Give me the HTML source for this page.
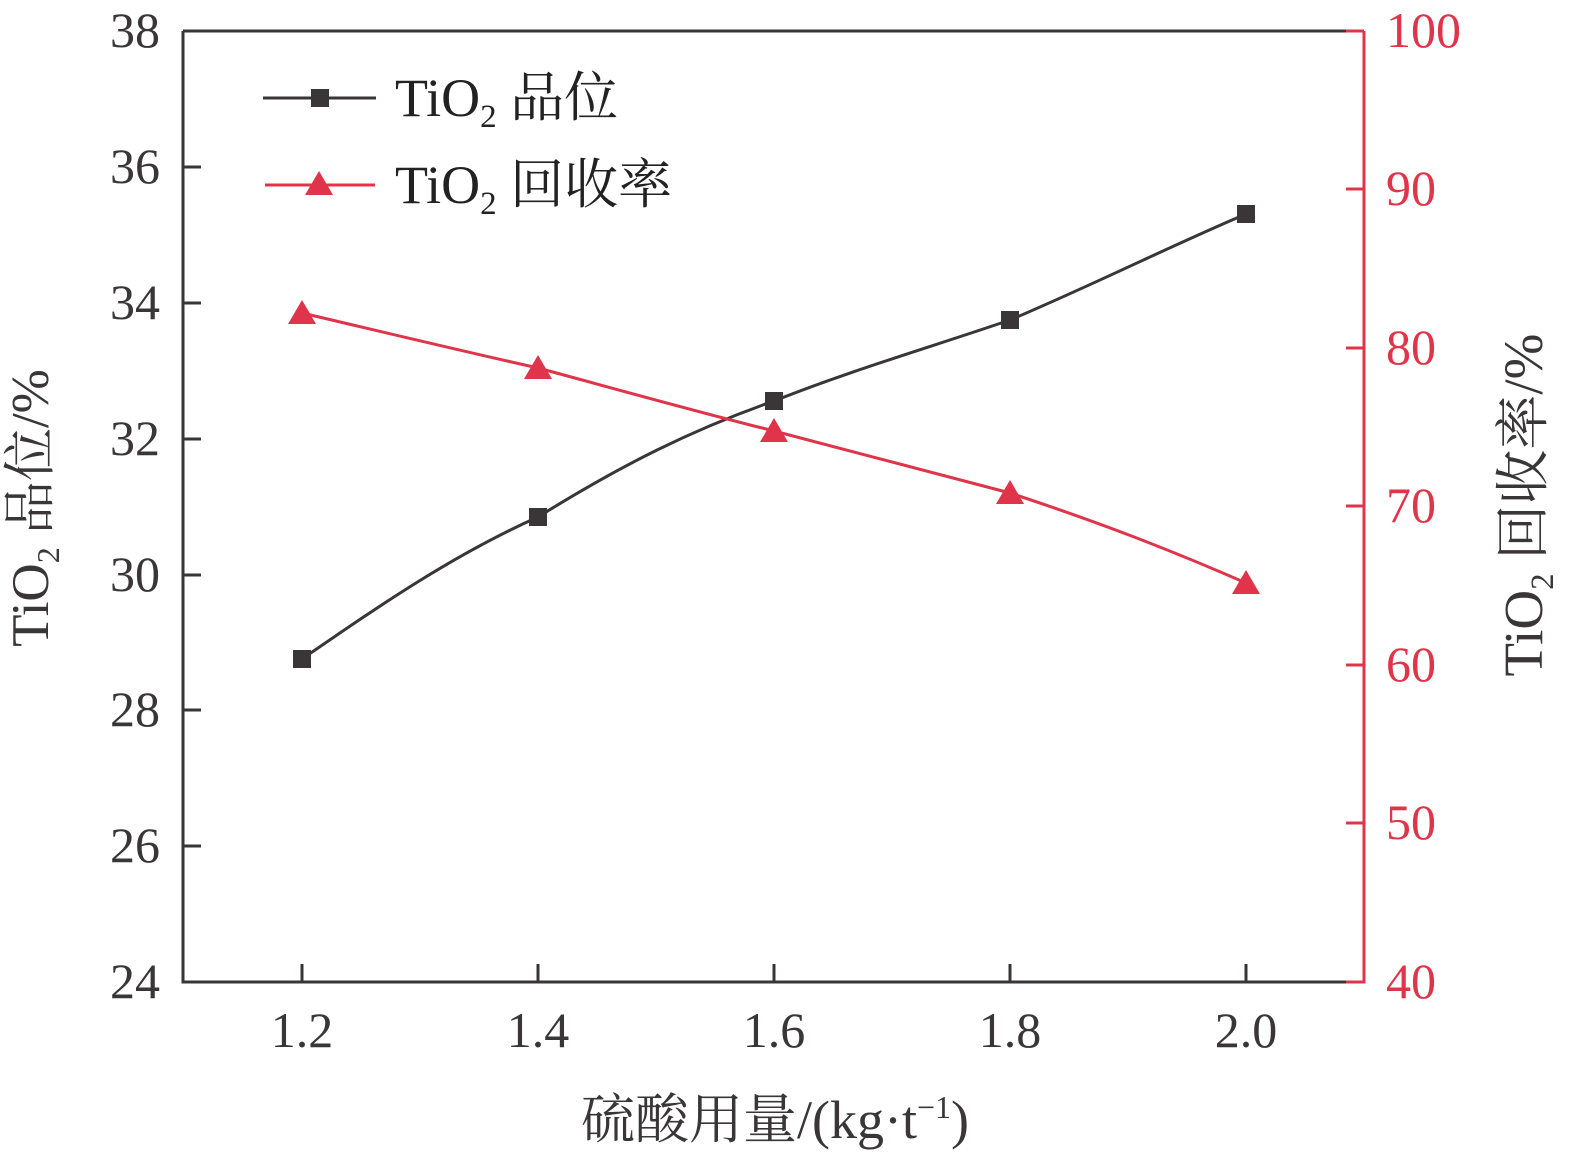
<!DOCTYPE html>
<html><head><meta charset="utf-8"><style>
body{margin:0;background:#fff}
svg text{font-family:"Liberation Serif","Noto Serif CJK SC",serif}
</style></head><body>
<svg width="1577" height="1159" xmlns="http://www.w3.org/2000/svg">
<g stroke="#3a3536" stroke-width="3" fill="none">
<path d="M183,31 H1364 M183,31 V982 H1364"/>
<path d="M183,167 h18 M183,303 h18 M183,439 h18 M183,575 h18 M183,710 h18 M183,846 h18"/>
<path d="M302,982 v-18 M538,982 v-18 M774,982 v-18 M1010,982 v-18 M1246,982 v-18"/>
</g>
<g stroke="#e0344a" stroke-width="3" fill="none">
<path d="M1364,31 V982 H1346 M1364,31 h-18"/>
<path d="M1364,189 h-18 M1364,348 h-18 M1364,506 h-18 M1364,665 h-18 M1364,823 h-18"/>
</g>
<g font-size="50" fill="#3a3536" text-anchor="end">
<text x="160" y="47">38</text><text x="160" y="183">36</text><text x="160" y="319">34</text>
<text x="160" y="455">32</text><text x="160" y="591">30</text><text x="160" y="726">28</text>
<text x="160" y="862">26</text><text x="160" y="998">24</text>
</g>
<g font-size="50" fill="#e0344a">
<text x="1386" y="47">100</text><text x="1386" y="205">90</text><text x="1386" y="364">80</text>
<text x="1386" y="522">70</text><text x="1386" y="681">60</text><text x="1386" y="839">50</text>
<text x="1386" y="998">40</text>
</g>
<g font-size="50" fill="#3a3536" text-anchor="middle">
<text x="302" y="1047">1.2</text><text x="538" y="1047">1.4</text><text x="774" y="1047">1.6</text>
<text x="1010" y="1047">1.8</text><text x="1246" y="1047">2.0</text>
<text x="775" y="1138" font-size="54">硫酸用量/(kg·t<tspan font-size="32" dy="-20">−1</tspan><tspan dy="20">)</tspan></text>
</g>
<text transform="translate(48,508) rotate(-90)" font-size="53" fill="#3a3536" text-anchor="middle">TiO<tspan font-size="32" dy="11">2</tspan><tspan dy="-11"> 品位/%</tspan></text>
<text transform="translate(1542,505) rotate(-90)" font-size="55" fill="#3a3536" text-anchor="middle">TiO<tspan font-size="33" dy="11">2</tspan><tspan dy="-11"> 回收率/%</tspan></text>
<path d="M302,659 C382,604 453,555 538,517 C623,464 694,429 774,401 C855,369 925,349 1010,320 C1095,284 1166,248 1246,214" stroke="#3a3536" stroke-width="3" fill="none"/>
<path d="M302,313 C383,332 453,349 538,368 C623,391 694,411 774,431 C855,452 925,471 1010,493 C1095,521 1166,548 1246,583" stroke="#e0344a" stroke-width="3" fill="none"/>
<g fill="#3a3536">
<rect x="293" y="650" width="18" height="18"/><rect x="529" y="508" width="18" height="18"/>
<rect x="765" y="392" width="18" height="18"/><rect x="1001" y="311" width="18" height="18"/>
<rect x="1237" y="205" width="18" height="18"/>
</g>
<g fill="#e0344a">
<path d="M302,300 l14,24 h-28z"/><path d="M538,355 l14,24 h-28z"/><path d="M774,418 l14,24 h-28z"/>
<path d="M1010,480 l14,24 h-28z"/><path d="M1246,570 l14,24 h-28z"/>
</g>
<path d="M263,98 H376" stroke="#3a3536" stroke-width="3"/>
<rect x="311" y="89" width="18" height="18" fill="#3a3536"/>
<path d="M265,185 H375" stroke="#e0344a" stroke-width="3"/>
<path d="M319,171 l14,24 h-28z" fill="#e0344a"/>
<g font-size="54" fill="#222">
<text x="395" y="116">TiO<tspan font-size="33" dy="11">2</tspan><tspan dy="-11"> 品位</tspan></text>
<text x="395" y="203">TiO<tspan font-size="33" dy="11">2</tspan><tspan dy="-11"> 回收率</tspan></text>
</g>
</svg>
</body></html>
